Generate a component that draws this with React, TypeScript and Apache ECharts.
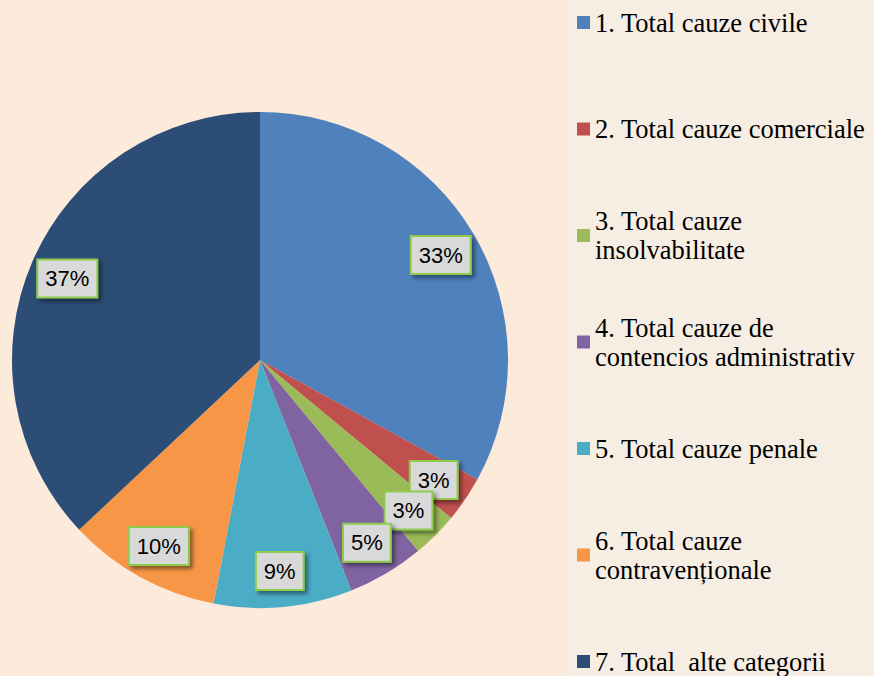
import React, { useEffect, useRef } from 'react';
import * as echarts from 'echarts';

const categories = [
  '1. Total cauze civile',
  '2. Total cauze comerciale',
  '3. Total cauze\ninsolvabilitate',
  '4. Total cauze de\ncontencios administrativ',
  '5. Total cauze penale',
  '6. Total cauze\ncontravenționale',
  '7. Total  alte categorii',
];
const values = [33, 3, 3, 5, 9, 10, 37];
const colors = ['#4F81BD', '#C0504D', '#9BBB59', '#8064A2', '#4BACC6', '#F79646', '#2C4D75'];

export default function App() {
  const ref = useRef<HTMLDivElement>(null);
  useEffect(() => {
    if (!ref.current) return;
    const chart = echarts.init(ref.current, null, { renderer: 'svg' });
    const data = categories.map((name, i) => ({ name, value: values[i], itemStyle: { color: colors[i] } }));
    const legendData = categories.map((name) => ({
      name,
      textStyle: {
        padding: name.includes('\n') ? [29, 0, 0, 0] : [29, 0, 29, 0],
        backgroundColor: 'rgba(0,0,0,0)',
      },
    }));
    chart.setOption({
      animation: false,
      backgroundColor: '#FCEADB',
      graphic: [
        { type: 'rect', left: 568, top: 0, shape: { width: 306, height: 676 }, style: { fill: '#F6EDE3' }, z: -10 },
      ],
      legend: {
        orient: 'vertical',
        left: 577,
        top: -21,
        height: 800,
        padding: 0,
        itemGap: 19.5,
        itemWidth: 13,
        itemHeight: 13,
        icon: 'rect',
        selectedMode: false,
        data: legendData,
        textStyle: {
          fontFamily: "'Liberation Serif', 'Times New Roman', serif",
          fontSize: 26.5,
          color: '#000',
          lineHeight: 29,
        },
      },
      series: [
        {
          type: 'pie',
          center: [260, 360],
          radius: [0, 248],
          startAngle: 90,
          clockwise: true,
          silent: true,
          label: { show: false },
          labelLine: { show: false },
          data,
        },
        {
          type: 'pie',
          center: [260, 362],
          radius: [166, 248],
          startAngle: 90,
          clockwise: true,
          silent: true,
          avoidLabelOverlap: false,
          labelLayout: { hideOverlap: false },
          itemStyle: { color: 'rgba(0,0,0,0)' },
          labelLine: { show: false },
          label: {
            show: true,
            position: 'inside',
            formatter: (p: any) => Math.round(p.percent) + '%',
            fontFamily: "'Liberation Sans', Arial, sans-serif",
            fontSize: 22,
            lineHeight: 26,
            color: '#000',
            backgroundColor: '#D9D9D9',
            borderColor: '#8FCB4C',
            borderWidth: 2,
            padding: [5, 7],
            shadowColor: 'rgba(0,0,0,0.45)',
            shadowBlur: 4,
            shadowOffsetX: 3,
            shadowOffsetY: 3,
          },
          data: categories.map((name, i) => ({ name, value: values[i] })),
        },
      ],
    });
    return () => chart.dispose();
  }, []);
  return <div ref={ref} style={{ position: 'fixed', left: 0, top: 0, width: 874, height: 676 }} />;
}
